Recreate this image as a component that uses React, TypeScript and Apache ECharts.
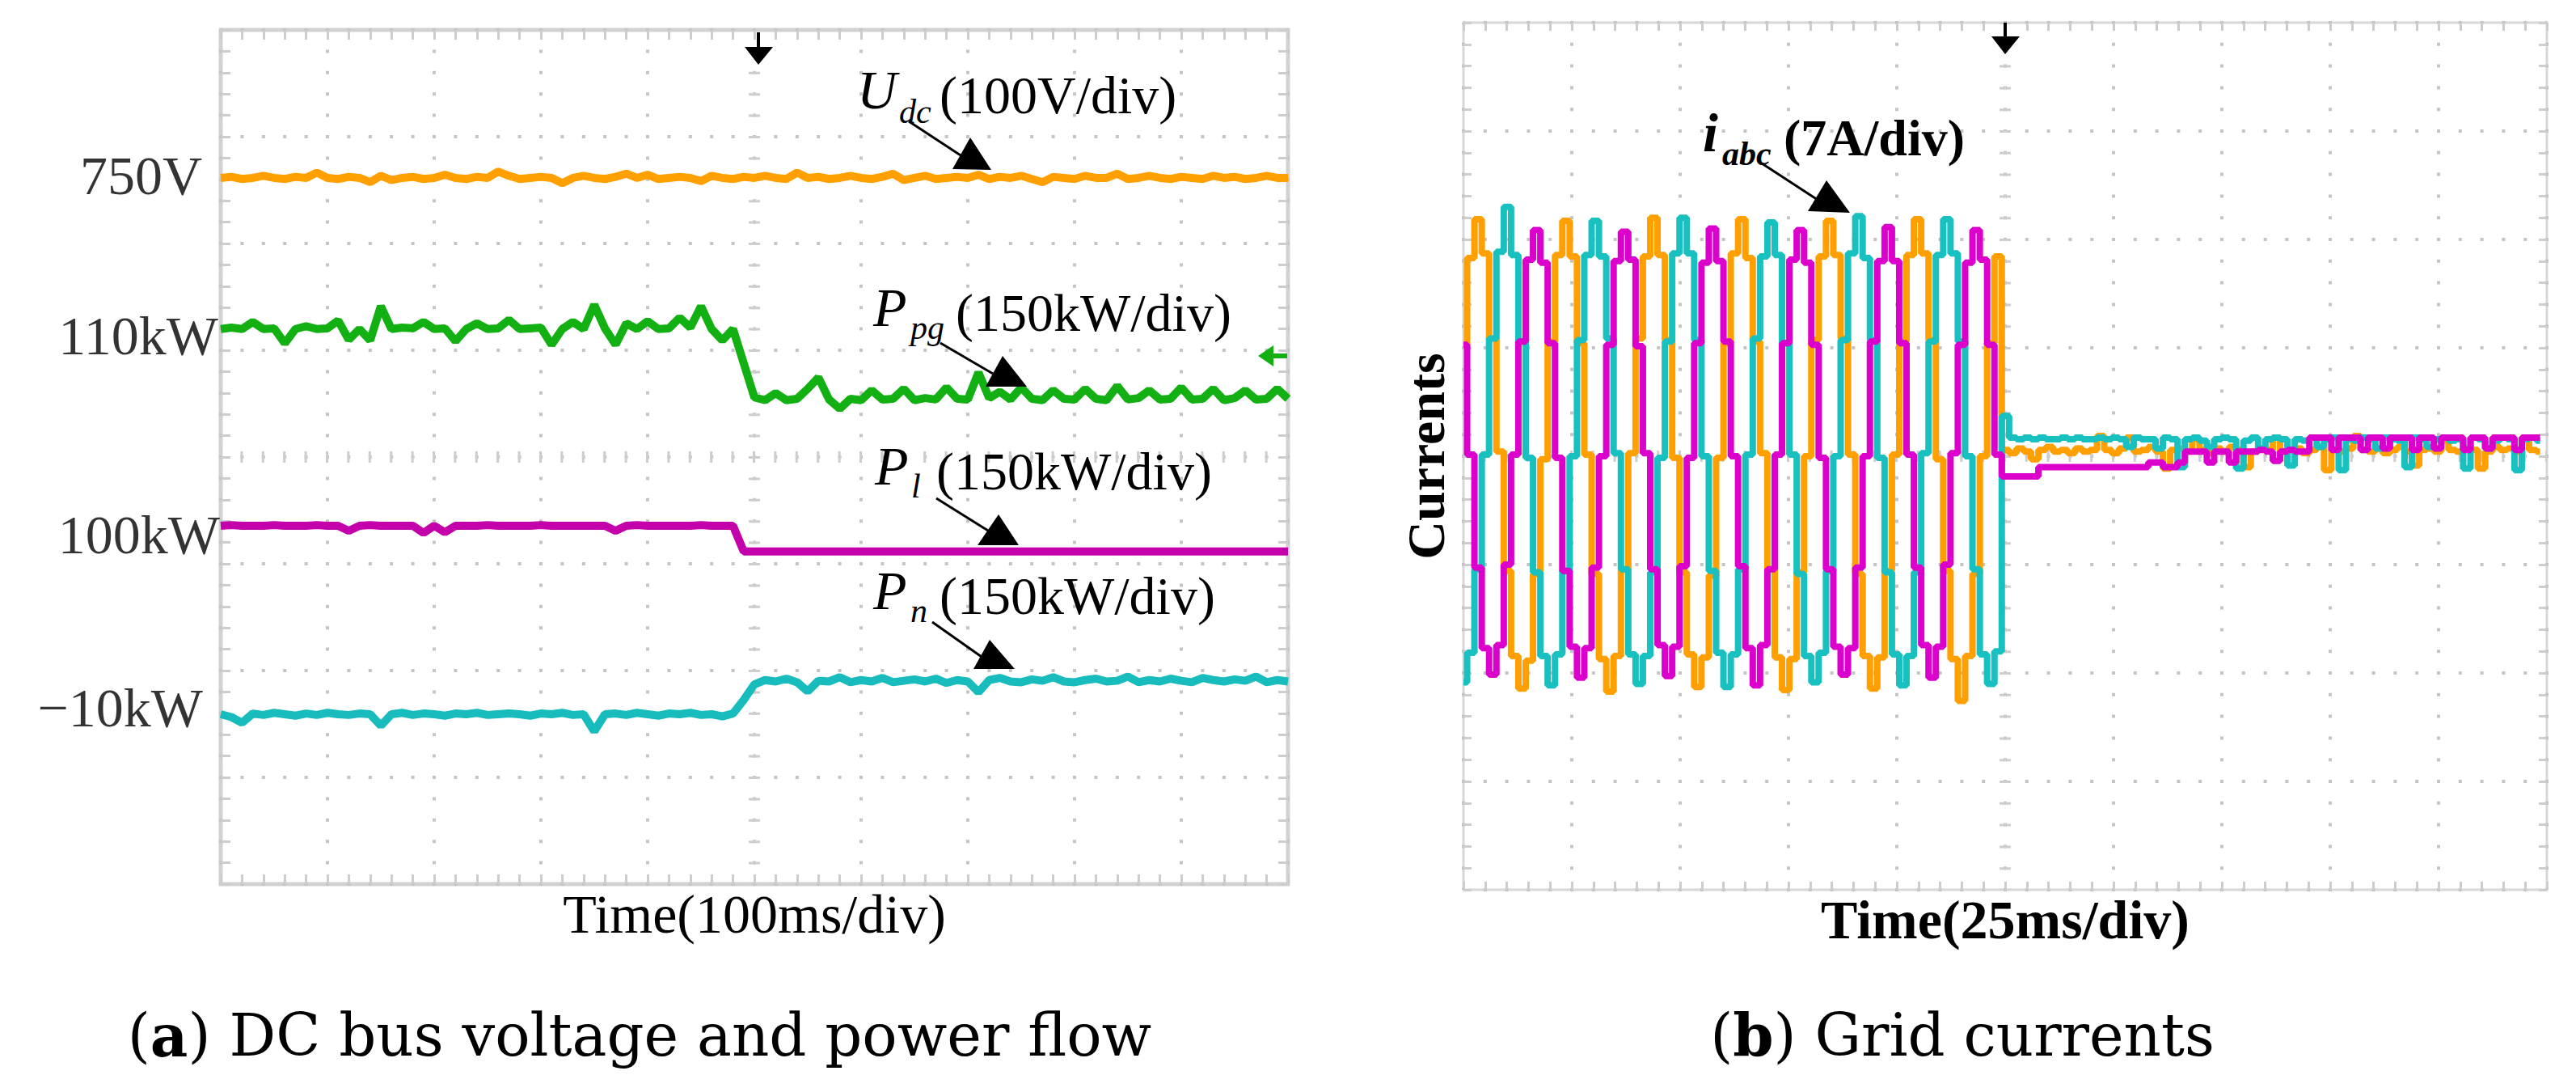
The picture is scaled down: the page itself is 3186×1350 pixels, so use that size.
import React, { useEffect, useRef } from "react";
import * as echarts from "echarts";

// ---------------- (a) DC bus voltage and power flow : one sample every 10 ms ----------------
const LEFT_DT_MS = 10;
const udcV = [
  750, 751, 749, 750, 752, 750, 749, 751, 750, 755,
  750, 749, 751, 750, 746, 752, 748, 750, 751, 749,
  750, 753, 750, 749, 751, 750, 756, 752, 749, 750,
  751, 750, 745, 750, 752, 750, 749, 751, 754, 750,
  753, 749, 750, 751, 750, 747, 752, 750, 749, 751,
  750, 752, 750, 749, 755, 750, 751, 749, 750, 752,
  750, 749, 751, 754, 748, 750, 752, 749, 750, 751,
  750, 753, 749, 751, 750, 752, 749, 746, 751, 750,
  749, 752, 750, 750, 754, 749, 750, 752, 750, 749,
  751, 750, 749, 752, 750, 751, 749, 750, 752, 750,
  750,
];
const ppgKW = [
  108, 110, 108, 118, 108, 109, 88, 108, 112, 108,
  109, 120, 93, 108, 92, 140, 108, 110, 109, 118,
  108, 109, 91, 108, 116, 108, 109, 121, 108, 109,
  110, 86, 108, 118, 108, 142, 109, 86, 116, 108,
  119, 108, 109, 124, 110, 140, 108, 92, 108, 60,
  12, 8, 18, 8, 10, 24, 40, 9, -4, 10,
  8, 22, 9, 10, 24, 8, 11, 9, 26, 10,
  9, 47, 11, 20, 9, 26, 10, 8, 22, 10,
  9, 24, 10, 8, 28, 9, 11, 22, 9, 10,
  26, 9, 10, 24, 8, 11, 22, 9, 10, 24,
  10,
];
const plKW = [
  100, 101, 100, 100, 100, 101, 100, 100, 100, 101,
  100, 100, 93, 100, 101, 100, 100, 100, 100, 90,
  100, 91, 100, 100, 100, 101, 100, 100, 100, 100,
  101, 100, 100, 100, 100, 100, 100, 93, 100, 101,
  100, 100, 100, 100, 100, 101, 100, 100, 100, 64,
  64, 64, 64, 64, 64, 64, 64, 64, 64, 64,
  64, 64, 64, 64, 64, 64, 64, 64, 64, 64,
  64, 64, 64, 64, 64, 64, 64, 64, 64, 64,
  64, 64, 64, 64, 64, 64, 64, 64, 64, 64,
  64, 64, 64, 64, 64, 64, 64, 64, 64, 64,
  64,
];
const pnKW = [
  -10, -14, -22, -9, -11, -8, -10, -12, -9, -11,
  -8, -10, -11, -9, -10, -26, -10, -8, -11, -9,
  -10, -12, -9, -10, -8, -11, -10, -9, -10, -12,
  -9, -10, -8, -11, -10, -34, -10, -9, -11, -8,
  -10, -12, -9, -10, -8, -11, -10, -13, -9, 10,
  32, 38, 36, 40, 35, 22, 37, 36, 42, 35,
  38, 36, 41, 35, 37, 39, 36, 40, 34, 38,
  36, 21, 38, 41, 36, 35, 39, 37, 42, 36,
  35, 38, 40, 36, 37, 43, 35, 38, 36, 40,
  37, 35, 41, 38, 36, 39, 37, 43, 35, 38,
  36,
];

// marker levels written at the left of panel (a)
const levelValues = [750, 110, 100, -10];
const levelLabels = ["750V", "110kW", "100kW", "\u221210kW"];
const channelPerDiv = [100, 150, 150, 150];

// ---------------- (b) Grid currents : one sample every 1.69 ms ----------------
const RIGHT_DT_MS = 1.69;
const iaA = [
  7.2, 12.8, 15.3, 13.1, 7.6, 0.3, -7.4, -12.9, -15.0, -13.2, -7.6, -0.2,
  7.4, 13.0, 15.2, 12.9, 7.3, 0.1, -7.6, -13.1, -15.2, -12.9, -7.3, 0.2,
  7.6, 12.9, 15.4, 13.0, 7.5, -0.1, -7.5, -12.8, -14.9, -13.0, -7.7, -0.1,
  7.3, 13.1, 15.3, 12.8, 7.4, 0.2, -7.3, -13.0, -15.1, -13.1, -7.5, 0.0,
  7.5, 12.9, 15.2, 13.0, 7.6, 0.1, -7.6, -12.9, -15.0, -13.0, -7.4, 0.1,
  7.4, 13.0, 15.3, 13.1, 7.5, -0.2, -7.4, -13.1, -15.8, -12.9, -7.6, 0.0,
  7.3, 12.9,
  0.4, 0.2, 0.5, 0.3, -0.2, 0.4, 0.6, 0.3, 0.4, 0.2,
  0.5, 0.3, 0.4, 1.3, 0.4, 0.2, 0.5, 1.2, 0.3, 0.4,
  0.6, 0.3, -0.8, 0.4, 0.5, 0.3, 1.1, 0.4, 0.2, 0.5,
  0.3, 0.6, 0.4, -0.7, 0.3, 0.5, 0.4, 1.2, 0.3, 0.4,
  0.5, 0.2, 0.4, 0.6, -0.9, 0.4, 0.3, 0.5, 1.3, 0.4,
  0.3, 0.5, 0.2, 0.4, 0.6, 0.3, -0.6, 0.4, 0.5, 0.3,
  1.0, 0.4, 0.3, 0.5, 0.4, -0.8, 0.3, 0.6, 0.4, 0.5,
  0.3, 1.2, 0.4, 0.3,
];
const ibA = [
  -14.6, -12.7, -7.3, 0.1, 7.6, 13.2, 16.1, 13.0, 7.4, -0.1, -7.5, -12.9,
  -14.8, -12.8, -7.4, 0.0, 7.5, 13.0, 15.2, 12.9, 7.6, 0.2, -7.3, -12.8,
  -14.7, -12.9, -7.5, -0.1, 7.4, 13.1, 15.4, 13.1, 7.5, 0.0, -7.4, -12.7,
  -14.9, -12.8, -7.3, 0.1, 7.6, 12.9, 15.1, 13.0, 7.3, 0.1, -7.6, -12.9,
  -14.6, -12.7, -7.4, 0.0, 7.5, 13.1, 15.5, 12.8, 7.5, -0.1, -7.5, -12.8,
  -14.8, -12.9, -7.5, 0.2, 7.4, 13.0, 15.3, 13.1, 7.4, 0.0, -7.3, -12.8,
  -14.7, -12.6,
  2.6, 1.2, 1.1, 1.2, 1.1, 1.2, 1.1, 1.1, 1.2, 1.1,
  1.2, 1.1, 1.1, 1.2, 1.1, 1.2, 1.1, 0.6, 1.2, 1.1,
  1.1, 0.5, 1.2, 1.1, -0.7, 1.1, 1.2, 1.0, 0.6, 1.1,
  1.2, 1.1, -0.8, 1.0, 1.2, 0.5, 1.1, 1.2, 1.1, -0.6,
  1.1, 1.0, 1.2, 0.6, 1.1, 1.2, -0.9, 1.1, 1.0, 1.2,
  1.1, 0.5, 1.2, 1.1, 1.0, -0.7, 1.2, 1.1, 0.6, 1.1,
  1.2, 1.0, 1.1, -0.8, 1.2, 1.1, 0.5, 1.0, 1.2, 1.1,
  -0.9, 1.1, 1.2, 1.0,
];
const icA = [
  7.2, 0.1, -7.2, -12.4, -14.1, -12.2, -7.0, 0.1, 7.4, 12.7, 14.6, 12.5,
  7.3, -0.1, -7.4, -12.3, -14.3, -12.4, -7.2, 0.0, 7.2, 12.6, 14.5, 12.7,
  7.1, 0.2, -7.3, -12.2, -14.2, -12.3, -7.1, -0.1, 7.3, 12.5, 14.7, 12.6,
  7.4, 0.0, -7.1, -12.4, -14.8, -12.2, -7.3, 0.1, 7.3, 12.7, 14.6, 12.5,
  7.2, -0.1, -7.3, -12.3, -14.1, -12.4, -7.2, 0.0, 7.4, 12.6, 14.8, 12.6,
  7.3, 0.1, -7.2, -12.2, -14.3, -12.3, -7.0, 0.2, 7.2, 12.5, 14.6, 12.7,
  7.2, 0.1,
  -1.3, -1.3, -1.3, -1.3, -1.3, -0.7, -0.7, -0.7, -0.7, -0.7,
  -0.7, -0.7, -0.7, -0.7, -0.7, -0.7, -0.7, -0.7, -0.7, -0.7,
  -0.4, -0.4, -0.7, -0.7, -0.4, 0.3, 0.3, 0.3, -0.4, 0.3,
  0.3, -0.4, 0.3, 0.3, 0.3, 0.4, 0.3, -0.3, 0.3, 0.4,
  0.3, 0.3, 1.2, 1.2, 1.2, 0.4, 1.2, 1.2, 1.2, 0.4,
  1.2, 1.2, 0.5, 1.2, 1.2, 1.2, 0.4, 1.2, 1.2, 0.5,
  1.2, 1.2, 1.2, 0.4, 1.2, 1.2, 0.5, 1.2, 1.2, 1.2,
  0.4, 1.2, 1.2, 1.2,
];

// ---------------- layout & styles ----------------
const SERIF = '"Liberation Serif", "Times New Roman", serif';
const CAPTION_FONT = '"DejaVu Serif", "Liberation Serif", serif';
const GRID_A = { left: 273, top: 37, width: 1320, height: 1056 };
const GRID_B = { left: 1810, top: 28, width: 1340, height: 1072 };
const DIVS_Y = 8;
// where (in divisions above the bottom edge) each channel's marker level sits on screen
const levelDivFromBottom = [6.614, 5.212, 3.356, 1.591];
const labelDistance = [23, 3, 1, 22];
const labelDy = [-3, 10, 11, -8];
const chanColors = ["#ffa000", "#12b012", "#c400aa", "#18bcbc"];
const curColors = ["#ffa000", "#18c0c0", "#dc00cc"];
const GRAT = "#c4c4c4";
const TICK = "#cdcdcd";

function tickAxis(
  gridIndex: number,
  position: string,
  min: number,
  max: number,
  interval: number,
  split: boolean,
  minorPx: number,
  tickLen: number,
  extra: any = {}
) {
  return {
    type: "value",
    gridIndex,
    position,
    min,
    max,
    interval,
    axisLine: { show: false, onZero: false },
    axisTick: { show: true, inside: true, length: tickLen, lineStyle: { color: TICK, width: 3 } },
    minorTick: { show: true, splitNumber: 5, length: tickLen, lineStyle: { color: TICK, width: 3 } },
    axisLabel: { show: false },
    splitLine: split
      ? { show: true, lineStyle: { color: GRAT, width: 4, type: [4, minorPx - 4], dashOffset: 2 } }
      : { show: false },
    minorSplitLine: { show: false },
    ...extra,
  };
}

function txt(x: number, y: number, text: string, font: any, extra: any = {}) {
  return {
    type: "text",
    x,
    y,
    z: 100,
    style: { text, fill: "#000", verticalAlign: "middle", align: "left", ...font, ...extra },
  };
}
function tri(points: number[][], fill = "#000") {
  return { type: "polygon", z: 100, shape: { points }, style: { fill } };
}
function seg(x1: number, y1: number, x2: number, y2: number, stroke = "#000", lineWidth = 3) {
  return { type: "line", z: 100, shape: { x1, y1, x2, y2 }, style: { stroke, lineWidth } };
}

function buildOption() {
  const minorA = GRID_A.width / 50;
  const minorB = GRID_B.width / 50;

  const chanData = [udcV, ppgKW, plKW, pnKW];
  const chanNames = ["Udc", "Ppg", "Pl", "Pn"];

  const chanAxes = chanData.map((_, i) => {
    const min = levelValues[i] - levelDivFromBottom[i] * channelPerDiv[i];
    return { type: "value", gridIndex: 0, show: false, min, max: min + DIVS_Y * channelPerDiv[i] };
  });

  const leftSeries = chanData.map((arr, i) => ({
    type: "line",
    name: chanNames[i],
    xAxisIndex: 0,
    yAxisIndex: 2 + i,
    data: arr.map((v, k) => [k * LEFT_DT_MS, v]),
    showSymbol: false,
    symbol: "none",
    lineStyle: { color: chanColors[i], width: 10 },
    itemStyle: { color: chanColors[i] },
    z: 5,
  }));

  const levelSeries = levelValues.map((v, i) => ({
    type: "scatter",
    xAxisIndex: 0,
    yAxisIndex: 2 + i,
    data: [[0, v]],
    symbolSize: 0,
    clip: false,
    silent: true,
    label: {
      show: true,
      position: "left",
      distance: labelDistance[i],
      offset: [0, labelDy[i]],
      formatter: () => levelLabels[i],
      fontSize: 68,
      fontFamily: SERIF,
      color: "#000",
    },
  }));

  const curNames = ["ia", "ib", "ic"];
  const rightSeries = [iaA, ibA, icA].map((arr, i) => ({
    type: "line",
    name: curNames[i],
    xAxisIndex: 2,
    yAxisIndex: 6,
    data: arr.map((v, k) => [k * RIGHT_DT_MS, v]),
    step: "middle",
    showSymbol: false,
    symbol: "none",
    lineStyle: { color: curColors[i], width: 8 },
    itemStyle: { color: curColors[i] },
    z: 5,
  }));

  const crossA = {
    type: "line",
    xAxisIndex: 0,
    yAxisIndex: 0,
    data: [],
    silent: true,
    markLine: {
      silent: true,
      symbol: ["none", "none"],
      label: { show: false },
      lineStyle: { color: TICK, width: 14, type: [3, minorA - 3], dashOffset: 1.5 },
      data: [{ xAxis: 500 }, { yAxis: 4 }],
    },
  };
  const crossB = {
    type: "line",
    xAxisIndex: 2,
    yAxisIndex: 6,
    data: [],
    silent: true,
    markLine: {
      silent: true,
      symbol: ["none", "none"],
      label: { show: false },
      lineStyle: { color: TICK, width: 14, type: [3, minorB - 3], dashOffset: 1.5 },
      data: [{ xAxis: 125 }, { yAxis: 0 }],
    },
  };

  const ann = { fontSize: 66, fontFamily: SERIF };
  const annI = { fontSize: 68, fontFamily: SERIF, fontStyle: "italic" };
  const subI = { fontSize: 42, fontFamily: SERIF, fontStyle: "italic" };

  const graphicElements: any[] = [
    // U_dc (100V/div)
    txt(1060, 111, "U", annI),
    txt(1112, 138, "dc", subI),
    txt(1162, 117, "(100V/div)", ann),
    seg(1124, 150, 1188, 192),
    tri([[1200, 170], [1178, 209], [1226, 210]]),
    // P_pg
    txt(1080, 380, "P", annI),
    txt(1126, 405, "pg", subI),
    txt(1182, 386, "(150kW/div)", ann),
    seg(1163, 424, 1228, 462),
    tri([[1240, 440], [1219, 478], [1270, 478]]),
    // P_l
    txt(1082, 576, "P", annI),
    txt(1127, 601, "l", subI),
    txt(1158, 582, "(150kW/div)", ann),
    seg(1158, 616, 1222, 656),
    tri([[1235, 636], [1209, 674], [1260, 674]]),
    // P_n
    txt(1080, 730, "P", annI),
    txt(1126, 755, "n", subI),
    txt(1162, 736, "(150kW/div)", ann),
    seg(1153, 769, 1214, 812),
    tri([[1224, 791], [1204, 827], [1255, 827]]),
    // trigger markers
    seg(938, 40, 938, 62, "#000", 4),
    tri([[921, 58], [956, 58], [938, 80]]),
    seg(2480, 28, 2480, 48, "#000", 4),
    tri([[2463, 45], [2498, 45], [2480, 67]]),
    // green level marker at right edge of (a)
    tri([[1556, 440], [1575, 427], [1575, 453]], "#12b012"),
    seg(1574, 440, 1592, 440, "#12b012", 6),
    // i_abc (7A/div)
    txt(2106, 164, "i", { fontSize: 68, fontFamily: SERIF, fontStyle: "italic", fontWeight: "bold" }),
    txt(2130, 190, "abc", { fontSize: 42, fontFamily: SERIF, fontStyle: "italic", fontWeight: "bold" }),
    txt(2206, 170, "(7A/div)", { fontSize: 64, fontFamily: SERIF, fontWeight: "bold" }),
    seg(2179, 202, 2248, 247),
    tri([[2259, 223], [2236, 261], [2288, 263]]),
    // captions
    {
      type: "text",
      x: 791,
      y: 1280,
      z: 100,
      style: {
        text: "{n|(}{b|a}{n|) DC bus voltage and power flow}",
        align: "center",
        verticalAlign: "middle",
        fill: "#000",
        rich: {
          n: { fontSize: 72, fontFamily: CAPTION_FONT, fill: "#000" },
          b: { fontSize: 72, fontFamily: CAPTION_FONT, fontWeight: "bold", fill: "#000" },
        },
      },
    },
    {
      type: "text",
      x: 2427,
      y: 1280,
      z: 100,
      style: {
        text: "{n|(}{b|b}{n|) Grid currents}",
        align: "center",
        verticalAlign: "middle",
        fill: "#000",
        rich: {
          n: { fontSize: 72, fontFamily: CAPTION_FONT, fill: "#000" },
          b: { fontSize: 72, fontFamily: CAPTION_FONT, fontWeight: "bold", fill: "#000" },
        },
      },
    },
  ];

  return {
    animation: false,
    backgroundColor: "#ffffff",
    grid: [
      { ...GRID_A, show: true, borderColor: "#d2d2d2", borderWidth: 5, backgroundColor: "transparent" },
      { ...GRID_B, show: true, borderColor: "#d8d8d8", borderWidth: 3, backgroundColor: "transparent" },
    ],
    xAxis: [
      tickAxis(0, "bottom", 0, 1000, 100, true, minorA, 12, {
        name: "Time(100ms/div)",
        nameLocation: "middle",
        nameGap: 3,
        nameTextStyle: { fontSize: 68, fontFamily: SERIF, color: "#000", verticalAlign: "top" },
      }),
      tickAxis(0, "top", 0, 1000, 100, false, minorA, 12),
      tickAxis(1, "bottom", 0, 250, 25, true, minorB, 10, {
        name: "Time(25ms/div)",
        nameLocation: "middle",
        nameGap: 3,
        nameTextStyle: { fontSize: 68, fontFamily: SERIF, fontWeight: "bold", color: "#000", verticalAlign: "top" },
      }),
      tickAxis(1, "top", 0, 250, 25, false, minorB, 10),
    ],
    yAxis: [
      tickAxis(0, "left", 0, 8, 1, true, minorA, 12),
      tickAxis(0, "right", 0, 8, 1, false, minorA, 12),
      ...chanAxes,
      tickAxis(1, "left", -28, 28, 7, true, minorB, 10, {
        name: "Currents",
        nameLocation: "middle",
        nameRotate: 90,
        nameGap: 14,
        nameTextStyle: { fontSize: 66, fontFamily: SERIF, fontWeight: "bold", color: "#000" },
      }),
      tickAxis(1, "right", -28, 28, 7, false, minorB, 10),
    ],
    series: [crossA, crossB, ...leftSeries, ...levelSeries, ...rightSeries],
    graphic: { elements: graphicElements },
  };
}

export default function App() {
  const ref = useRef<HTMLDivElement>(null);
  useEffect(() => {
    if (!ref.current) return;
    const chart = echarts.init(ref.current, null, { renderer: "svg" });
    chart.setOption(buildOption() as any);
    return () => chart.dispose();
  }, []);
  return (
    <div
      ref={ref}
      style={{ position: "fixed", left: 0, top: 0, width: 3186, height: 1350, background: "#ffffff" }}
    />
  );
}
